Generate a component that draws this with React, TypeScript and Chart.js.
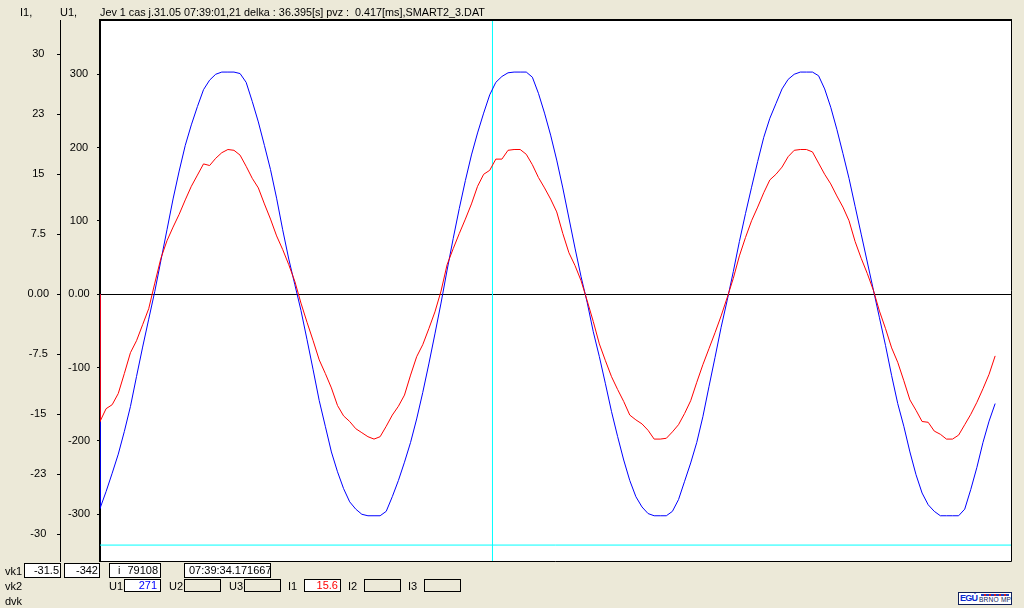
import React, { useEffect, useRef } from "react";
import { Chart, registerables } from "chart.js";

Chart.register(...registerables);

// U1 voltage samples [V], one per recorded sample (sample index = position)
const U1_VALUES: number[] = [
  -292, -269, -244, -218, -187, -153, -112, -72, -34, 4,
  46, 88, 130, 168, 203, 231, 256, 279, 292, 300,
  303, 303, 303, 301, 289, 263, 235, 203, 170, 131,
  88, 48, 13, -22, -62, -103, -145, -180, -215, -242,
  -265, -283, -293, -300, -302, -302, -302, -296, -276, -254,
  -229, -202, -170, -134, -95, -54, -12, 33, 76, 117,
  155, 190, 220, 247, 272, 289, 297, 302, 303, 303,
  303, 296, 274, 247, 217, 183, 145, 104, 63, 24,
  -11, -51, -85, -122, -160, -194, -226, -254, -276, -290,
  -299, -302, -302, -302, -296, -280, -255, -230, -202, -167,
  -126, -86, -45, -8, 31, 72, 110, 146, 181, 214,
  240, 260, 280, 293, 300, 303, 303, 303, 298, 280,
  255, 225, 192, 158, 120, 82, 44, 6, -32, -70,
  -111, -149, -180, -215, -246, -271, -287, -296, -302, -302,
  -302, -302, -293, -266, -236, -202, -173, -149,
];

// I1 current samples [A]
const I1_VALUES: number[] = [
  -15.9, -14.3, -13.8, -12.4, -9.9, -7.3, -5.8, -3.8, -1.8, 1.4,
  4.5, 6.7, 8.4, 10.0, 11.8, 13.5, 14.9, 16.3, 16.1, 17.0,
  17.7, 18.1, 18.0, 17.4, 16.0, 14.5, 13.3, 11.3, 9.4, 7.3,
  5.6, 3.7, 1.6, -1.1, -3.5, -5.8, -8.2, -9.9, -11.7, -13.9,
  -15.2, -15.9, -16.8, -17.3, -17.8, -18.1, -17.8, -16.5, -15.1, -14.0,
  -12.6, -10.1, -7.8, -6.3, -4.3, -2.2, 0.4, 3.7, 5.7, 7.6,
  9.4, 11.3, 13.5, 15.0, 15.5, 16.9, 16.9, 18.0, 18.1, 18.1,
  17.5, 16.2, 14.6, 13.3, 11.9, 10.3, 7.6, 5.2, 3.6, 1.7,
  -0.8, -3.4, -6.2, -8.3, -10.3, -11.9, -13.4, -15.1, -15.7, -16.2,
  -17.0, -18.1, -18.1, -18.0, -17.2, -16.3, -14.9, -13.3, -11.0, -8.8,
  -6.8, -4.8, -2.7, -0.4, 2.0, 4.8, 7.1, 9.2, 10.9, 12.7,
  14.3, 15.0, 15.9, 17.2, 18.0, 18.1, 18.1, 17.8, 16.4, 15.0,
  13.8, 12.3, 10.9, 9.2, 6.6, 4.5, 2.6, 0.5, -2.1, -4.3,
  -6.7, -8.5, -10.8, -13.2, -14.5, -15.9, -16.0, -17.1, -17.5, -18.1,
  -18.1, -17.6, -16.3, -15.0, -13.5, -11.8, -10.0, -7.7,
];

const I1_TICKS = [30, 22.5, 15, 7.5, 0, -7.5, -15, -22.5, -30];
const I1_TICK_LABELS = ["30", "23", "15", "7.5", "0.00", "-7.5", "-15", "-23", "-30"];
const U1_TICKS = [300, 200, 100, 0, -100, -200, -300];
const U1_TICK_LABELS = ["300", "200", "100", "0.00", "-100", "-200", "-300"];

const I1_RANGE = [-33.34, 34.29];
const U1_RANGE = [-363.7, 374.0];
const X_RANGE = [0, 149.6];

const CURSOR_SAMPLE = 64.45;
const CURSOR_U = -342;

const HEADER = "Jev 1 cas j.31.05 07:39:01,21 delka : 36.395[s] pvz :  0.417[ms],SMART2_3.DAT";

const FONT = '"Liberation Sans", Arial, sans-serif';

function Box(props: {
  left: number; top: number; width: number; height: number;
  text?: string; color?: string; white?: boolean; align?: "left" | "right"; pad?: number;
  children?: React.ReactNode;
}) {
  const { left, top, width, height, text, color, white, align = "right", pad = 2, children } = props;
  return (
    <div
      style={{
        position: "absolute", left, top, width, height, boxSizing: "border-box",
        border: "1px solid #000", background: white ? "#fff" : "transparent",
        fontSize: 11, lineHeight: `${height - 2}px`, color: color || "#000",
        textAlign: align, paddingRight: align === "right" ? pad : 0,
        paddingLeft: align === "left" ? pad : 0, whiteSpace: "pre", overflow: "hidden",
      }}
    >
      {text}
      {children}
    </div>
  );
}

function Label(props: { left: number; top: number; text: string; size?: number }) {
  return (
    <div
      style={{
        position: "absolute", left: props.left, top: props.top, fontSize: props.size || 11,
        lineHeight: "11px", whiteSpace: "pre", color: "#000",
      }}
    >
      {props.text}
    </div>
  );
}

export default function App() {
  const ref = useRef<HTMLCanvasElement>(null);

  useEffect(() => {
    document.body.style.margin = "0";
    const toPoints = (vals: number[]) => [{ x: 0, y: 0 }, ...vals.map((v, i) => ({ x: i, y: v }))];

    const framePlugin = {
      id: "frame",
      beforeDraw(chart: any) {
        const { ctx, chartArea: a } = chart;
        ctx.save();
        ctx.fillStyle = "#fff";
        ctx.fillRect(a.left, a.top, a.right - a.left, a.bottom - a.top);
        ctx.restore();
      },
      afterDraw(chart: any) {
        const { ctx, chartArea: a } = chart;
        ctx.save();
        ctx.strokeStyle = "#000";
        ctx.lineWidth = 2;
        ctx.beginPath();
        ctx.moveTo(a.left - 1, a.top);
        ctx.lineTo(a.right + 1, a.top);
        ctx.stroke();
        ctx.lineWidth = 1;
        ctx.beginPath();
        ctx.moveTo(a.right + 0.5, a.top);
        ctx.lineTo(a.right + 0.5, a.bottom + 0.5);
        ctx.lineTo(a.left, a.bottom + 0.5);
        ctx.stroke();
        ctx.restore();
      },
    };

    const tickFont = { family: FONT, size: 11 };

    const chart = new Chart(ref.current!, {
      type: "line",
      data: {
        datasets: [
          {
            label: "I1",
            data: toPoints(I1_VALUES),
            yAxisID: "yI",
            borderColor: "#ff0000",
            borderWidth: 1,
            pointRadius: 0,
            tension: 0,
            fill: false,
          },
          {
            label: "U1",
            data: toPoints(U1_VALUES),
            yAxisID: "yU",
            borderColor: "#0000ff",
            borderWidth: 1,
            pointRadius: 0,
            tension: 0,
            fill: false,
          },
          {
            label: "cursorV",
            data: [
              { x: CURSOR_SAMPLE, y: U1_RANGE[0] },
              { x: CURSOR_SAMPLE, y: U1_RANGE[1] },
            ],
            yAxisID: "yU",
            borderColor: "#00ffff",
            borderWidth: 1,
            pointRadius: 0,
            fill: false,
          },
          {
            label: "cursorH",
            data: [
              { x: X_RANGE[0], y: CURSOR_U },
              { x: X_RANGE[1], y: CURSOR_U },
            ],
            yAxisID: "yU",
            borderColor: "#00ffff",
            borderWidth: 1,
            pointRadius: 0,
            fill: false,
          },
        ],
      },
      options: {
        responsive: false,
        animation: false,
        events: [],
        layout: { padding: { left: 0, top: 20, right: 13, bottom: 47 } },
        plugins: {
          legend: { display: false },
          tooltip: { enabled: false },
          title: { display: false },
        },
        scales: {
          x: { type: "linear", min: X_RANGE[0], max: X_RANGE[1], display: false },
          yI: {
            type: "linear",
            position: "left",
            weight: 1,
            min: I1_RANGE[0],
            max: I1_RANGE[1],
            afterBuildTicks: (s: any) => {
              s.ticks = I1_TICKS.map((v) => ({ value: v }));
            },
            afterFit: (s: any) => {
              s.width = 60;
            },
            ticks: {
              autoSkip: false,
              color: "#000",
              font: tickFont,
              padding: 8,
              crossAlign: "center",
              callback: (v: any) => {
                const i = I1_TICKS.indexOf(Number(v));
                return i >= 0 ? I1_TICK_LABELS[i] : "";
              },
            },
            grid: { drawOnChartArea: false, drawTicks: true, tickLength: 3, tickColor: "#000", color: "#000" },
            border: { display: true, color: "#000", width: 1 },
          },
          yU: {
            type: "linear",
            position: "left",
            weight: 0,
            min: U1_RANGE[0],
            max: U1_RANGE[1],
            afterBuildTicks: (s: any) => {
              s.ticks = U1_TICKS.map((v) => ({ value: v }));
            },
            afterFit: (s: any) => {
              s.width = 40;
            },
            ticks: {
              autoSkip: false,
              color: "#000",
              font: tickFont,
              padding: 7,
              crossAlign: "center",
              callback: (v: any) => {
                const i = U1_TICKS.indexOf(Number(v));
                return i >= 0 ? U1_TICK_LABELS[i] : "";
              },
            },
            grid: {
              drawOnChartArea: true,
              drawTicks: true,
              tickLength: 3,
              tickColor: "#000",
              lineWidth: 1,
              color: (ctx: any) => (ctx.tick && ctx.tick.value === 0 ? "#000" : "rgba(0,0,0,0)"),
            },
            border: { display: true, color: "#000", width: 2 },
          },
        },
      } as any,
      plugins: [framePlugin],
    });
    return () => chart.destroy();
  }, []);

  return (
    <div
      style={{
        position: "fixed", left: 0, top: 0, width: 1024, height: 608, overflow: "hidden",
        background: "#ECE9D8", fontFamily: FONT, color: "#000",
      }}
    >
      <canvas ref={ref} width={1024} height={608} style={{ position: "absolute", left: 0, top: 0, width: 1024, height: 608 }} />

      <Label left={20} top={7} text="I1," />
      <Label left={60} top={7} text="U1," />
      <Label left={100} top={7} text={HEADER} size={10.8} />

      <Label left={5} top={566} text="vk1" />
      <Box left={24} top={563} width={37} height={15} text="-31.5" white pad={1} />
      <Box left={64} top={563} width={36} height={15} text="-342" white pad={1} />
      <Box left={109} top={563} width={52} height={15} white>
        <span style={{ position: "absolute", left: 8, top: 0 }}>i</span>
        <span style={{ position: "absolute", right: 2, top: 0 }}>79108</span>
      </Box>
      <Box left={184} top={563} width={87} height={15} text="07:39:34.171667" white align="left" pad={4} />

      <Label left={5} top={581} text="vk2" />
      <Label left={109} top={581} text="U1" />
      <Box left={124} top={579} width={37} height={13} text="271" color="#0000ff" white pad={3} />
      <Label left={169} top={581} text="U2" />
      <Box left={184} top={579} width={37} height={13} />
      <Label left={229} top={581} text="U3" />
      <Box left={244} top={579} width={37} height={13} />
      <Label left={288} top={581} text="I1" />
      <Box left={304} top={579} width={37} height={13} text="15.6" color="#ff0000" white pad={2} />
      <Label left={348} top={581} text="I2" />
      <Box left={364} top={579} width={37} height={13} />
      <Label left={408} top={581} text="I3" />
      <Box left={424} top={579} width={37} height={13} />

      <Label left={5} top={596} text="dvk" />

      <div
        style={{
          position: "absolute", left: 958, top: 592, width: 54, height: 13, boxSizing: "border-box",
          border: "1px solid #10205a", background: "#fff", overflow: "hidden",
        }}
      >
        <div
          style={{
            position: "absolute", left: 1, top: 0, fontSize: 9, fontWeight: "bold", color: "#0a2bd0",
            letterSpacing: -0.8, lineHeight: "11px", whiteSpace: "pre",
          }}
        >
          EGÚ
        </div>
        <div
          style={{
            position: "absolute", left: 22, top: 1, width: 28, height: 2,
            background: "repeating-linear-gradient(90deg, #1a3cc8 0 3px, #d42020 3px 5px)",
          }}
        />
        <div
          style={{
            position: "absolute", left: 20, top: 3, fontSize: 6.6, color: "#10205a", lineHeight: "8px",
            whiteSpace: "pre", letterSpacing: 0.2,
          }}
        >
          BRNO MP
        </div>
      </div>
    </div>
  );
}
